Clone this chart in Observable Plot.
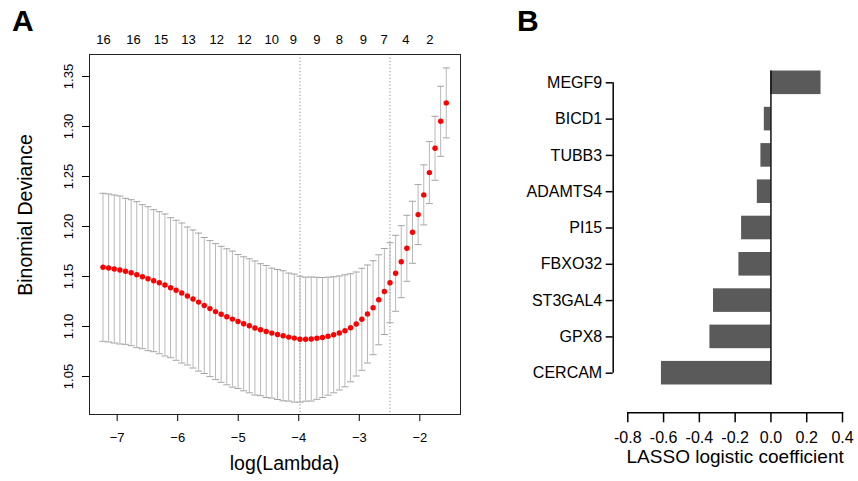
<!DOCTYPE html>
<html><head><meta charset="utf-8">
<script src="https://cdn.jsdelivr.net/npm/d3@7"></script>
<script src="https://cdn.jsdelivr.net/npm/@observablehq/plot@0.6"></script>
<style>
body{margin:0;background:#fff;}
#wrap{position:relative;width:858px;height:481px;overflow:hidden;font-family:"Liberation Sans",Arial,sans-serif;background:#fff;}
.panel{position:absolute;top:0;}
.tag{position:absolute;font-weight:bold;font-size:30px;line-height:30px;color:#000;}
</style></head><body>
<div id="wrap">
<div id="pa" class="panel" style="left:0"></div>
<div id="pb" class="panel" style="left:490px"></div>
<div class="tag" style="left:12px;top:6px">A</div>
<div class="tag" style="left:517px;top:6px">B</div>
</div>
<script>
// ---- Panel A data: cross-validated binomial deviance vs log(lambda)
const logLambda = [-7.234,-7.141,-7.048,-6.955,-6.862,-6.769,-6.676,-6.583,-6.490,-6.397,
  -6.304,-6.211,-6.118,-6.026,-5.933,-5.840,-5.747,-5.654,-5.561,-5.468,
  -5.375,-5.282,-5.189,-5.096,-5.003,-4.910,-4.817,-4.724,-4.631,-4.538,
  -4.445,-4.352,-4.259,-4.166,-4.073,-3.980,-3.887,-3.794,-3.701,-3.608,
  -3.516,-3.423,-3.330,-3.237,-3.144,-3.051,-2.958,-2.865,-2.772,-2.679,
  -2.586,-2.493,-2.400,-2.307,-2.214,-2.121,-2.028,-1.935,-1.842,-1.749,
  -1.656,-1.563];
const cvm = [1.1592,1.1585,1.1575,1.1565,1.1552,1.1538,1.1518,1.1498,1.1478,1.1458,
  1.1438,1.1415,1.1388,1.1362,1.1335,1.1305,1.1275,1.1244,1.1210,1.1179,
  1.1149,1.1122,1.1097,1.1074,1.1050,1.1027,1.1007,1.0985,1.0968,1.0950,
  1.0934,1.0920,1.0907,1.0894,1.0884,1.0873,1.0873,1.0875,1.0882,1.0890,
  1.0903,1.0917,1.0935,1.0957,1.0987,1.1025,1.1072,1.1125,1.1188,1.1267,
  1.1350,1.1438,1.1532,1.1648,1.1782,1.1942,1.2119,1.2316,1.2539,1.2782,
  1.3052,1.3236];
const cvsd = [0.074,0.074,0.074,0.074,0.073,0.073,0.073,0.072,0.072,0.071,
  0.071,0.071,0.070,0.070,0.070,0.069,0.069,0.069,0.068,0.068,
  0.068,0.068,0.068,0.068,0.067,0.067,0.067,0.067,0.066,0.066,
  0.065,0.065,0.065,0.064,0.064,0.063,0.062,0.062,0.061,0.060,
  0.059,0.058,0.057,0.056,0.054,0.052,0.051,0.049,0.047,0.045,
  0.043,0.040,0.038,0.036,0.033,0.031,0.030,0.030,0.031,0.032,
  0.035,0.035];
const lambdaLines = [-3.980, -2.493];           // lambda.min, lambda.1se
const topPos = [-7.224,-6.729,-6.277,-5.822,-5.353,-4.898,-4.446,-4.089,-3.703,-3.330,-2.934,-2.592,-2.229,-1.833];
const topLab = ["16","16","15","13","12","12","10","9","9","8","9","7","4","2"];
const xTicksA = [-7,-6,-5,-4,-3,-2];
const yTicksA = [1.05,1.10,1.15,1.20,1.25,1.30,1.35];

// ---- Panel B data: LASSO coefficients
const genes = ["MEGF9","BICD1","TUBB3","ADAMTS4","PI15","FBXO32","ST3GAL4","GPX8","CERCAM"];
const coefs = [0.280,-0.037,-0.056,-0.076,-0.164,-0.179,-0.321,-0.341,-0.612];
const xTicksB = [-0.8,-0.6,-0.4,-0.2,0.0,0.2,0.4];

const FONT = '"Liberation Sans", Arial, sans-serif';

const rowsA = logLambda.map((x, i) => ({x, m: cvm[i], lo: cvm[i] - cvsd[i], hi: cvm[i] + cvsd[i]}));
const capHalf = 0.058;
const topRows = topPos.map((x, i) => ({x, t: topLab[i]}));

const A = Plot.plot({
  width: 490, height: 481,
  marginLeft: 89, marginRight: 30, marginTop: 54, marginBottom: 67,
  style: {fontFamily: FONT, fontSize: "13px", color: "#000", background: "transparent"},
  x: {domain: [-7.457, -1.328]},
  y: {domain: [1.012, 1.372]},
  marks: [
    Plot.ruleX(lambdaLines, {stroke: "#8a8a8a", strokeDasharray: "1.2,2.2"}),
    Plot.ruleX(rowsA, {x: "x", y1: "lo", y2: "hi", stroke: "#b8b8b8"}),
    Plot.link(rowsA, {x1: d => d.x - capHalf, x2: d => d.x + capHalf, y1: "hi", y2: "hi", stroke: "#a4a4a4"}),
    Plot.link(rowsA, {x1: d => d.x - capHalf, x2: d => d.x + capHalf, y1: "lo", y2: "lo", stroke: "#a4a4a4"}),
    Plot.dot(rowsA, {x: "x", y: "m", r: 2.7, fill: "#ff0000", stroke: "none"}),
    Plot.frame({stroke: "#222"}),
    Plot.axisX({ticks: xTicksA, tickSize: 7, tickPadding: 11, fontSize: 13, label: null,
      tickFormat: d => (d < 0 ? "\u2212" : "") + Math.abs(d)}),
    Plot.axisY({ticks: yTicksA, tickSize: 7, tickPadding: 10, tickRotate: -90, tickFormat: d => d.toFixed(2), fontSize: 13, label: null}),
    Plot.text(topRows, {x: "x", text: "t", frameAnchor: "top", lineAnchor: "middle", dy: -15, fontSize: 13}),
    Plot.text(["log(Lambda)"], {text: d => d, frameAnchor: "bottom", lineAnchor: "middle", textAnchor: "middle", dx: 9.5, dy: 48.9, fontSize: 19.5}),
    Plot.text(["Binomial Deviance"], {text: d => d, frameAnchor: "left", textAnchor: "middle", lineAnchor: "middle", rotate: -90, dx: -63.4, dy: -19.5, fontSize: 19.5})
  ]
});
document.getElementById("pa").appendChild(A);

const rowsB = genes.map((g, i) => ({g, c: coefs[i]}));
const bw = (397.2 - 57.8) / (genes.length + 0.35) * 0.65;
const B = Plot.plot({
  width: 368, height: 481,
  marginLeft: 137.3, marginRight: 16, marginTop: 57.8, marginBottom: 68.7,
  style: {fontFamily: FONT, fontSize: "16px", color: "#000", background: "transparent"},
  x: {domain: [-0.8, 0.4]},
  y: {domain: genes, range: [57.8, 397.2], padding: 0.35, round: false},
  marks: [
    Plot.barX(rowsB, {x: "c", y: "g", fill: "#5a5a5a"}),
    Plot.ruleX([0], {x: d => d, y1: () => genes[0], y2: () => genes[genes.length - 1], stroke: "#000", strokeWidth: 1.4}),
    Plot.ruleX([-0.8], {x: d => d, y1: () => genes[0], y2: () => genes[genes.length - 1], dx: -14.6, insetTop: bw / 2, insetBottom: bw / 2, stroke: "#000", strokeWidth: 1.5}),
    Plot.frame({anchor: "bottom", stroke: "#000", strokeWidth: 1.5}),
    Plot.axisY({tickSize: 7, tickPadding: 4, dx: -14.6, fontSize: 16, label: null, strokeWidth: 1.5}),
    Plot.axisX({ticks: xTicksB, tickSize: 10, tickPadding: 9, tickFormat: d => d.toFixed(1), fontSize: 16, label: null, strokeWidth: 1.5}),
    Plot.text(["LASSO logistic coefficient"], {text: d => d, frameAnchor: "bottom", lineAnchor: "middle", textAnchor: "middle", dy: 44.3, fontSize: 19})
  ]
});
document.getElementById("pb").appendChild(B);
</script>
</body></html>
